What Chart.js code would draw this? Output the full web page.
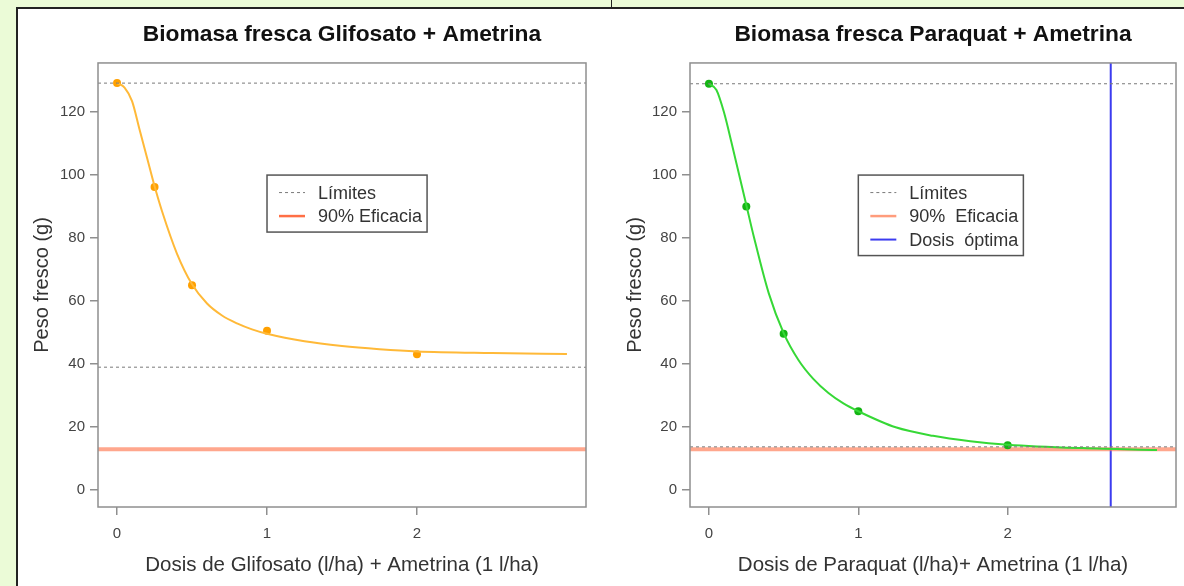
<!DOCTYPE html>
<html>
<head>
<meta charset="utf-8">
<script src="https://cdn.jsdelivr.net/npm/chart.js@4"></script>
<style>
  body { margin: 0; width: 1184px; height: 586px; background: #ebfbd7; overflow: hidden; font-family: "Liberation Sans", Arial, sans-serif; }
  #sheet { position: absolute; left: 16px; top: 7px; right: 0; bottom: 0; background: #fff; border-left: 2px solid #222; border-top: 2px solid #222; }
  #divider { position: absolute; left: 611px; top: 0; width: 1px; height: 8px; background: #222; }
  .panel { position: absolute; top: 9px; height: 577px; }
  #left { left: 18px; width: 593px; }
  #right { left: 611px; width: 573px; }
</style>
</head>
<body>
<div id="sheet"></div>
<div id="divider"></div>
<div class="panel" id="left"><canvas id="chartGli"></canvas></div>
<div class="panel" id="right"><canvas id="chartPar"></canvas></div>
<script>
// Datos
const doseTicks = [0, 1, 2];
const weightTicks = [0, 20, 40, 60, 80, 100, 120];
const xRange = [-0.127, 3.127];
const yRange = [-5.4, 135.6];

// Glifosato + Ametrina
const gliDose = [0, 0.25, 0.5, 1, 2];
const gliWeight = [129.2, 96.2, 65.0, 50.6, 43.1];
const gliCurveDose = [0, 0.05, 0.1, 0.15, 0.2, 0.25, 0.3, 0.4, 0.5, 0.6, 0.7, 0.8, 0.9, 1.0, 1.25, 1.5, 1.75, 2.0, 2.5, 3.0];
const gliCurveWeight = [129.2, 127.8, 123.5, 114.5, 105.5, 96.5, 88.5, 75.0, 65.3, 59.2, 55.4, 52.9, 51.0, 49.6, 47.2, 45.7, 44.7, 44.0, 43.5, 43.2];
const gliLimits = [129.2, 39.0];

// Paraquat + Ametrina
const parDose = [0, 0.25, 0.5, 1, 2];
const parWeight = [129.0, 90.0, 49.6, 25.0, 14.2];
const parCurveDose = [0, 0.05, 0.1, 0.15, 0.2, 0.25, 0.3, 0.4, 0.5, 0.6, 0.7, 0.8, 0.9, 1.0, 1.25, 1.5, 1.75, 2.0, 2.5, 3.0];
const parCurveWeight = [129.0, 127.0, 120.0, 110.5, 100.5, 90.5, 80.5, 62.5, 49.8, 41.2, 35.2, 30.8, 27.5, 25.0, 19.9, 17.2, 15.5, 14.4, 13.3, 12.7];
const parLimits = [129.0, 13.7];
const optimalDose = 2.69;

const efficacy90 = 12.9;

const zip = (xs, ys) => xs.map((x, i) => ({ x: x, y: ys[i] }));
const hline = y => [{ x: xRange[0], y: y }, { x: xRange[1], y: y }];

// Marco, y leyenda dibujada dentro del área del gráfico
const framePlugin = {
    id: 'frame',
    afterDatasetsDraw(chart) {
        const { ctx, chartArea: a, scales } = chart;
        ctx.save();
        ctx.strokeStyle = '#8f8f8f';
        ctx.lineWidth = 1.5;
        ctx.strokeRect(a.left, a.top, a.right - a.left, a.bottom - a.top);

        const items = chart.data.datasets.filter(d => d.inLegend);
        const left = scales.x.getPixelForValue(1);
        const top = scales.y.getPixelForValue(100);
        ctx.font = '18px "Liberation Sans", Arial, sans-serif';
        const textW = Math.max(...items.map(d => ctx.measureText(d.label).width));
        const rowH = 23.5;
        const w = 51 + textW + 5;
        const h = items.length * rowH + 10;
        ctx.fillStyle = '#fff';
        ctx.fillRect(left, top, w, h);
        ctx.strokeStyle = '#555';
        ctx.lineWidth = 1.5;
        ctx.strokeRect(left, top, w, h);
        items.forEach((d, i) => {
            const y = top + 17.5 + i * rowH;
            ctx.beginPath();
            ctx.setLineDash(d.borderDash || []);
            ctx.strokeStyle = d.legendColor || d.borderColor;
            ctx.lineWidth = d.legendWidth || d.borderWidth;
            ctx.moveTo(left + 12, y);
            ctx.lineTo(left + 38, y);
            ctx.stroke();
            ctx.setLineDash([]);
            ctx.fillStyle = '#333';
            ctx.textBaseline = 'middle';
            ctx.fillText(d.label, left + 51, y + 1);
        });
        ctx.restore();
    }
};

function buildChart(id, opts) {
    const fontFam = '"Liberation Sans", Arial, sans-serif';
    const datasets = [
        { label: 'Límites', data: hline(opts.limits[0]), borderColor: '#7a7a7a', borderWidth: 1, borderDash: [3, 3], pointRadius: 0, inLegend: true },
        { label: 'Límites bajo', data: hline(opts.limits[1]), borderColor: '#7a7a7a', borderWidth: 1, borderDash: [3, 3], pointRadius: 0 },
        { label: 'curva', data: zip(opts.curveDose, opts.curveWeight), borderColor: opts.curveColor, borderWidth: 2, pointRadius: 0, cubicInterpolationMode: 'monotone' },
        { label: 'observado', data: zip(opts.dose, opts.weight), showLine: false, pointRadius: 4, pointBorderWidth: 0, backgroundColor: opts.pointColor, borderColor: opts.pointColor },
        { label: opts.effLabel, data: hline(efficacy90), borderColor: 'rgba(255,120,80,0.65)', legendColor: opts.effLegendColor, legendWidth: 2.5, borderWidth: 4, pointRadius: 0, inLegend: true }
    ];
    if (opts.optimal !== undefined) {
        datasets.push({ label: 'Dosis  óptima', data: [{ x: opts.optimal, y: yRange[0] }, { x: opts.optimal, y: yRange[1] }], borderColor: '#3c3cf0', borderWidth: 2, legendWidth: 2, pointRadius: 0, inLegend: true });
    }

    return new Chart(document.getElementById(id), {
        type: 'line',
        data: { datasets: datasets },
        options: {
            responsive: true,
            maintainAspectRatio: false,
            animation: false,
            layout: { padding: { left: 0, right: opts.padRight, top: 0, bottom: 0 } },
            plugins: {
                legend: { display: false },
                tooltip: { enabled: false },
                title: {
                    display: true,
                    text: opts.title,
                    fullSize: false,
                    color: '#111',
                    font: { family: fontFam, size: 22.8, weight: 'bold', lineHeight: 1.2 },
                    padding: { top: 12, bottom: 14.6 }
                }
            },
            scales: {
                x: {
                    type: 'linear',
                    min: xRange[0],
                    max: xRange[1],
                    afterBuildTicks: s => { s.ticks = doseTicks.map(v => ({ value: v })); },
                    afterFit: s => { s.height = 79; },
                    grid: { drawOnChartArea: false, drawTicks: true, tickLength: 8, color: '#8f8f8f', lineWidth: 1.5 },
                    border: { display: false },
                    ticks: { padding: 10, color: '#444', font: { family: fontFam, size: 15 }, callback: v => String(v) },
                    title: { display: true, text: opts.xTitle, color: '#333', font: { family: fontFam, size: 20.5, lineHeight: 1.2 }, padding: { top: 0, bottom: 8 } }
                },
                y: {
                    type: 'linear',
                    min: yRange[0],
                    max: yRange[1],
                    afterBuildTicks: s => { s.ticks = weightTicks.map(v => ({ value: v })); },
                    afterFit: s => { s.width = opts.yWidth; },
                    grid: { drawOnChartArea: false, drawTicks: true, tickLength: 8, color: '#8f8f8f', lineWidth: 1.5 },
                    border: { display: false },
                    ticks: { padding: 5, color: '#444', font: { family: fontFam, size: 15 }, callback: v => String(v) },
                    title: { display: true, text: 'Peso fresco (g)', color: '#333', font: { family: fontFam, size: 20, lineHeight: 1.2 }, padding: { top: 12, bottom: 0 } }
                }
            }
        },
        plugins: [framePlugin]
    });
}

buildChart('chartGli', {
    title: 'Biomasa fresca Glifosato + Ametrina',
    xTitle: 'Dosis de Glifosato (l/ha) + Ametrina (1 l/ha)',
    dose: gliDose, weight: gliWeight,
    curveDose: gliCurveDose, curveWeight: gliCurveWeight,
    limits: gliLimits,
    curveColor: '#ffb938', pointColor: '#ffa000',
    effLabel: '90% Eficacia',
    effLegendColor: '#ff6f45',
    padRight: 25, yWidth: 80
});

buildChart('chartPar', {
    title: 'Biomasa fresca Paraquat + Ametrina',
    xTitle: 'Dosis de Paraquat (l/ha)+ Ametrina (1 l/ha)',
    dose: parDose, weight: parWeight,
    curveDose: parCurveDose, curveWeight: parCurveWeight,
    limits: parLimits,
    curveColor: '#36d836', pointColor: '#14b414',
    effLabel: '90%  Eficacia',
    effLegendColor: '#ff9c7c',
    optimal: optimalDose,
    padRight: 8, yWidth: 79
});
</script>
</body>
</html>
